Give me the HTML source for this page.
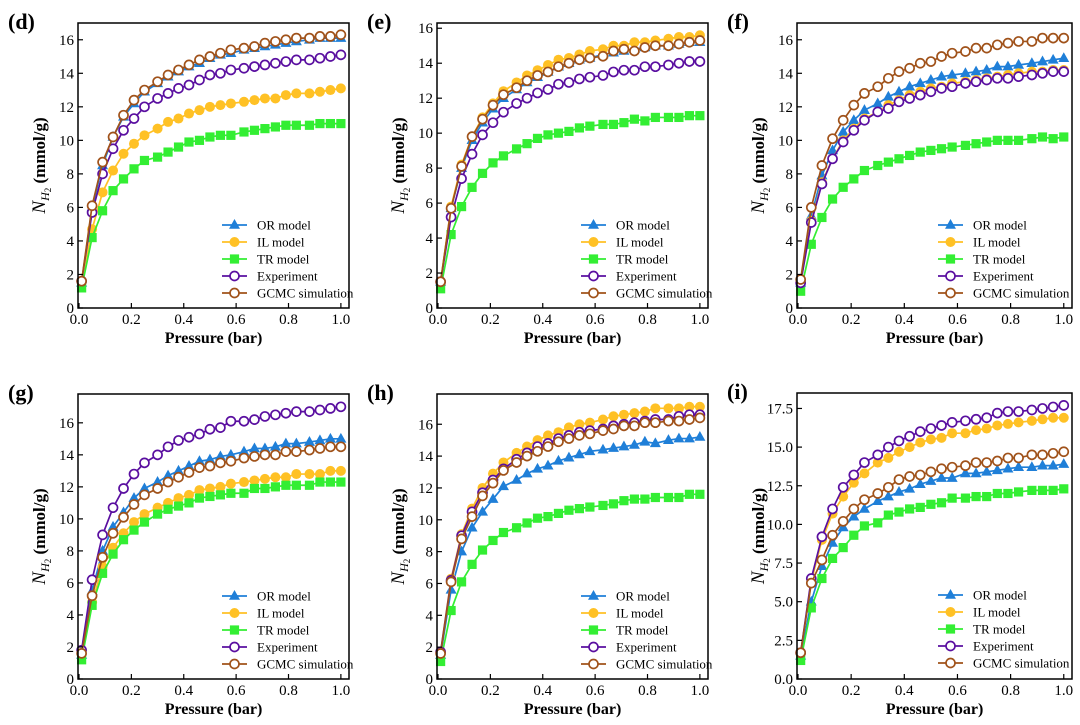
<!DOCTYPE html>
<html><head><meta charset="utf-8"><style>
body{margin:0;background:#fff;}
svg{display:block;font-family:"Liberation Serif",serif;}
</style></head><body>
<svg id="fig" width="1080" height="725" viewBox="0 0 1080 725" xmlns="http://www.w3.org/2000/svg"></svg>
<script>
const NS="http://www.w3.org/2000/svg";
const seriesNames=["OR model","IL model","TR model","Experiment","GCMC simulation"];
const pressures=[0.01,0.05,0.09,0.13,0.17,0.21,0.25,0.30,0.34,0.38,0.42,0.46,0.50,0.54,0.58,0.63,0.67,0.71,0.75,0.79,0.83,0.88,0.92,0.96,1.00];
const xTicks=[0,0.2,0.4,0.6,0.8,1.0];
const xTickLabels=["0.0","0.2","0.4","0.6","0.8","1.0"];
const panelLabels=["(d)","(e)","(f)","(g)","(h)","(i)"];
const yTicksA=[0,2,4,6,8,10,12,14,16];
const yTicksB=[0,2.5,5,7.5,10,12.5,15,17.5];
const yMaxes=[17,16.3,17,17.8,17.9,18.5];

const d_OR=[1.5,6.0,8.5,10.2,11.4,12.2,12.9,13.4,13.8,14.1,14.4,14.6,14.9,15.1,15.2,15.4,15.5,15.6,15.7,15.8,15.9,16.0,16.1,16.1,16.1];
const d_IL=[1.6,4.7,6.9,8.2,9.2,9.8,10.3,10.7,11.1,11.3,11.6,11.8,12.0,12.1,12.2,12.3,12.4,12.5,12.5,12.7,12.8,12.8,12.9,13.0,13.1];
const d_TR=[1.2,4.2,5.8,7.0,7.7,8.3,8.8,9.0,9.3,9.6,9.9,10.0,10.2,10.3,10.3,10.5,10.6,10.7,10.8,10.9,10.9,10.9,11.0,11.0,11.0];
const d_EX=[1.6,5.7,8.0,9.5,10.6,11.3,12.0,12.5,12.8,13.1,13.3,13.6,13.9,14.0,14.2,14.3,14.4,14.5,14.6,14.7,14.8,14.8,14.9,15.0,15.1];
const d_GC=[1.6,6.1,8.7,10.2,11.5,12.4,13.0,13.5,13.9,14.2,14.5,14.8,15.0,15.2,15.4,15.5,15.6,15.8,15.9,16.0,16.1,16.1,16.2,16.2,16.3];

const e_OR=[1.5,5.7,8.0,9.6,10.6,11.4,12.0,12.5,12.9,13.2,13.5,13.8,14.0,14.2,14.3,14.5,14.6,14.7,14.8,14.9,15.0,15.0,15.1,15.2,15.2];
const e_IL=[1.5,5.8,8.2,9.8,10.9,11.7,12.4,12.9,13.3,13.6,13.9,14.2,14.3,14.5,14.7,14.8,15.0,15.0,15.2,15.2,15.3,15.4,15.5,15.5,15.6];
const e_TR=[1.1,4.2,5.8,6.9,7.7,8.3,8.7,9.1,9.4,9.7,9.9,10.0,10.1,10.3,10.4,10.5,10.5,10.6,10.8,10.7,10.9,10.9,10.9,11.0,11.0];
const e_EX=[1.5,5.2,7.4,8.8,9.9,10.6,11.2,11.7,12.0,12.3,12.5,12.8,12.9,13.1,13.2,13.3,13.5,13.6,13.6,13.8,13.8,13.9,14.0,14.1,14.1];
const e_GC=[1.5,5.7,8.1,9.8,10.8,11.6,12.2,12.6,13.0,13.3,13.5,13.8,14.0,14.2,14.3,14.4,14.7,14.8,14.7,14.9,15.0,15.0,15.1,15.2,15.3];

const f_OR=[1.5,5.5,7.9,9.4,10.5,11.2,11.8,12.2,12.6,12.9,13.2,13.4,13.6,13.8,13.9,14.0,14.1,14.2,14.4,14.4,14.5,14.6,14.7,14.8,14.9];
const f_IL=[1.6,5.2,7.5,8.9,10.0,10.7,11.3,11.7,12.1,12.4,12.7,12.9,13.1,13.2,13.4,13.5,13.6,13.7,13.8,13.9,14.0,14.1,14.1,14.2,14.2];
const f_TR=[1.0,3.8,5.4,6.5,7.2,7.7,8.2,8.5,8.7,8.9,9.1,9.3,9.4,9.5,9.6,9.7,9.8,9.9,10.0,10.0,10.0,10.1,10.2,10.1,10.2];
const f_EX=[1.5,5.1,7.4,8.9,9.9,10.6,11.2,11.7,11.9,12.3,12.5,12.7,12.9,13.1,13.2,13.4,13.5,13.6,13.7,13.7,13.8,13.9,14.0,14.1,14.1];
const f_GC=[1.7,6.0,8.5,10.1,11.2,12.1,12.8,13.2,13.7,14.1,14.3,14.6,14.7,15.0,15.2,15.3,15.5,15.5,15.7,15.8,15.9,15.9,16.1,16.1,16.1];

const g_OR=[1.5,5.5,8.0,9.5,10.4,11.3,11.9,12.3,12.7,13.0,13.3,13.6,13.7,13.9,14.0,14.2,14.4,14.4,14.5,14.7,14.7,14.8,14.9,15.0,15.0];
const g_IL=[1.6,4.8,7.0,8.2,9.1,9.8,10.3,10.7,11.0,11.3,11.5,11.8,11.9,12.0,12.2,12.3,12.4,12.5,12.6,12.6,12.8,12.8,12.8,13.0,13.0];
const g_TR=[1.2,4.6,6.6,7.8,8.7,9.3,9.8,10.3,10.6,10.8,11.0,11.3,11.4,11.5,11.6,11.6,11.9,11.9,12.0,12.1,12.1,12.1,12.3,12.3,12.3];
const g_EX=[1.8,6.2,9.0,10.7,11.9,12.8,13.5,14.0,14.5,14.9,15.1,15.3,15.6,15.7,16.1,16.1,16.2,16.4,16.5,16.6,16.7,16.7,16.8,16.9,17.0];
const g_GC=[1.6,5.2,7.6,9.1,10.1,10.9,11.5,11.9,12.3,12.6,12.9,13.2,13.3,13.5,13.6,13.8,13.9,14.0,14.0,14.2,14.2,14.3,14.4,14.5,14.5];

const h_OR=[1.5,5.6,8.0,9.5,10.5,11.3,12.1,12.5,12.9,13.2,13.4,13.7,13.9,14.1,14.3,14.4,14.5,14.6,14.7,14.9,14.8,15.0,15.1,15.1,15.2];
const h_IL=[1.7,6.3,9.1,10.7,12.0,12.9,13.6,14.2,14.6,15.0,15.3,15.5,15.8,16.0,16.1,16.3,16.5,16.6,16.7,16.8,17.0,17.0,17.0,17.1,17.1];
const h_TR=[1.1,4.3,6.1,7.2,8.1,8.7,9.2,9.5,9.8,10.1,10.2,10.4,10.6,10.7,10.8,10.9,11.0,11.2,11.3,11.3,11.4,11.4,11.4,11.6,11.6];
const h_EX=[1.7,6.2,9.0,10.5,11.7,12.5,13.2,13.8,14.2,14.6,14.8,15.1,15.3,15.5,15.6,15.7,15.9,16.0,16.1,16.2,16.3,16.3,16.5,16.6,16.6];
const h_GC=[1.6,6.1,8.8,10.2,11.5,12.3,13.1,13.6,14.0,14.3,14.6,14.9,15.1,15.3,15.4,15.6,15.7,15.9,15.9,16.1,16.1,16.2,16.2,16.3,16.4];

const i_OR=[1.5,5.0,7.3,8.8,9.8,10.5,11.0,11.5,11.8,12.1,12.3,12.6,12.8,13.0,13.0,13.3,13.3,13.4,13.5,13.6,13.7,13.7,13.8,13.8,13.9];
const i_IL=[1.7,6.3,9.0,10.7,11.8,12.7,13.3,14.0,14.3,14.7,15.0,15.3,15.5,15.6,15.9,15.9,16.1,16.2,16.4,16.5,16.6,16.7,16.8,16.9,16.9];
const i_TR=[1.2,4.6,6.5,7.8,8.5,9.3,9.9,10.1,10.6,10.8,11.0,11.1,11.3,11.4,11.7,11.7,11.8,11.8,12.0,12.0,12.1,12.2,12.2,12.2,12.3];
const i_EX=[1.7,6.5,9.2,11.0,12.4,13.2,14.0,14.5,15.0,15.4,15.7,16.0,16.2,16.4,16.6,16.7,16.8,16.9,17.2,17.3,17.3,17.4,17.5,17.6,17.7];
const i_GC=[1.7,6.2,7.7,9.3,10.2,11.0,11.6,12.0,12.4,12.9,13.1,13.2,13.4,13.6,13.7,13.8,14.0,14.0,14.1,14.3,14.3,14.5,14.5,14.6,14.7];

const panelData=[[d_OR,d_IL,d_TR,d_EX,d_GC],[e_OR,e_IL,e_TR,e_EX,e_GC],[f_OR,f_IL,f_TR,f_EX,f_GC],
 [g_OR,g_IL,g_TR,g_EX,g_GC],[h_OR,h_IL,h_TR,h_EX,h_GC],[i_OR,i_IL,i_TR,i_EX,i_GC]];

const styles=[{c:"#1f7fd8",m:"tri"},{c:"#ffc125",m:"circ"},{c:"#33ee33",m:"sq"},{c:"#5a0fa0",m:"open"},{c:"#a0521a",m:"open"}];
const frames=[[78,23,349,308],[437,23,708,308],[797,23,1072,308],[78,394,349,679],[437,394,708,679],[797,393,1072,679]];
const svg=document.getElementById('fig');
function mk(tag,attrs,parent,text){const e=document.createElementNS(NS,tag);for(const k in attrs)e.setAttribute(k,attrs[k]);if(text!==undefined)e.textContent=text;(parent||svg).appendChild(e);return e;}
function marker(g,type,c,x,y){
 let el;
 if(type==="tri"){el=mk('polygon',{points:`${x},${y-6} ${x-5.5},${y+3.8} ${x+5.5},${y+3.8}`,fill:c},g);}
 else if(type==="circ"){el=mk('circle',{cx:x,cy:y,r:5,fill:c},g);}
 else if(type==="sq"){el=mk('rect',{x:x-4.6,y:y-4.6,width:9.2,height:9.2,fill:c},g);}
 else {el=mk('circle',{cx:x,cy:y,r:4.5,fill:"#fff",stroke:c,'stroke-width':1.7},g);}
 return el;
}
panelData.forEach((series,p)=>{
 const [L,T,R,B]=frames[p];
 const ymax=yMaxes[p];
 const xs=v=>L+1+v*(R-L-1)/1.031;
 const ys=v=>B-v*(B-T)/ymax;
 const pg=mk('g',{});
 
 
 const lab=mk('text',{x:L-70,y:T+6,'font-size':22,'font-weight':'bold'},pg,panelLabels[p]);
 
 series.forEach((vals,s)=>{
  const st=styles[s];
  const sg=mk('g',{},pg);
  
  
  const pts=vals.map((v,i)=>xs(pressures[i])+","+ys(v)).join(" ");
  mk('polyline',{points:pts,fill:'none',stroke:st.c,'stroke-width':1.7},sg);
  vals.forEach((v,i)=>{const m=marker(sg,st.m,st.c,xs(pressures[i]),ys(v));
   });
 });
 const fr=mk('rect',{x:L,y:T,width:R-L,height:B-T,fill:'none',stroke:'#000','stroke-width':1.5},pg);
 
 xTicks.forEach((t,i)=>{const x=xs(t);
  mk('line',{x1:x,y1:B,x2:x,y2:B-5,stroke:'#000','stroke-width':1.2},pg);
  const tl=mk('text',{x:x,y:B+16,'font-size':15,'text-anchor':'middle'},pg,xTickLabels[i]);
  });
 const yt=p===5?yTicksB:yTicksA;
 yt.forEach(t=>{const y=ys(t);
  mk('line',{x1:L,y1:y,x2:L+5,y2:y,stroke:'#000','stroke-width':1.2},pg);
  const tl=mk('text',{x:L-4,y:y+5,'font-size':15,'text-anchor':'end'},pg,p===5?t.toFixed(1):String(t));
  });
 const xt=mk('text',{x:(L+R)/2,y:B+35,'font-size':16,'font-weight':'bold','text-anchor':'middle'},pg,'Pressure (bar)');
 
 const cy=(T+B)/2, cx=L-33;
 const ya=mk('text',{x:0,y:0,'font-size':16,'text-anchor':'middle',transform:`translate(${cx},${cy}) rotate(-90)`},pg);
 
 mk('tspan',{'font-style':'italic','font-size':19},ya,'N');
 mk('tspan',{'font-style':'italic','font-size':12,dy:4},ya,'H');
 mk('tspan',{'font-size':9,dy:2},ya,'2');
 mk('tspan',{'font-weight':'bold','font-size':17,dy:-6},ya,' (mmol/g)');
 const lg=mk('g',{},pg);
 
 seriesNames.forEach((n,s)=>{
  const y=T+202+s*17, x0=L+(p%3===2?141:144);
  const eg=mk('g',{},lg);
  
  mk('line',{x1:x0,y1:y,x2:x0+25,y2:y,stroke:styles[s].c,'stroke-width':1.7},eg);
  marker(eg,styles[s].m,styles[s].c,x0+12.5,y);
  mk('text',{x:x0+35,y:y+4.5,'font-size':13},eg,n);
 });
});
</script>
</body></html>
